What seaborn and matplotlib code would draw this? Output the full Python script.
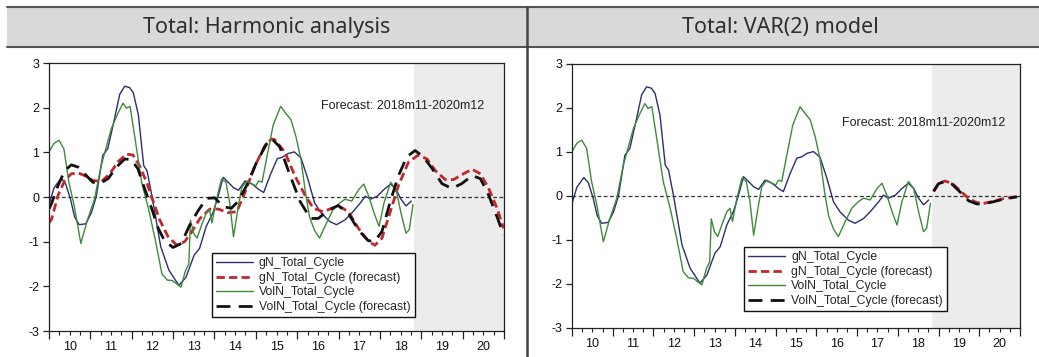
import matplotlib
matplotlib.use("Agg")
import matplotlib.pyplot as plt
from matplotlib.ticker import FixedLocator, FuncFormatter
from matplotlib.patches import Rectangle
from matplotlib.lines import Line2D
import seaborn as sns
import pandas as pd

sns.set_theme(style="white")
plt.rcParams["font.family"] = ["Liberation Sans", "DejaVu Sans"]

# ---- observed cycles (decimal year, value), 2010m1 - 2018m10 ----
gn_t = [2010.0, 2010.12, 2010.29, 2010.4, 2010.52, 2010.62, 2010.73, 2010.89, 2011.02, 2011.14,
        2011.30, 2011.42, 2011.55, 2011.71, 2011.83, 2011.95, 2012.04, 2012.16, 2012.29, 2012.37,
        2012.49, 2012.70, 2012.90, 2013.14, 2013.31, 2013.51, 2013.64, 2013.80, 2013.96, 2014.09,
        2014.21, 2014.30, 2014.46, 2014.58, 2014.74, 2014.91, 2015.07, 2015.19, 2015.36, 2015.52,
        2015.64, 2015.77, 2015.93, 2016.09, 2016.26, 2016.42, 2016.58, 2016.79, 2016.95, 2017.16,
        2017.32, 2017.53, 2017.65, 2017.77, 2017.94, 2018.10, 2018.26, 2018.39, 2018.51, 2018.63,
        2018.76]
gn_v = [-0.17, 0.2, 0.42, 0.3, -0.05, -0.45, -0.62, -0.60, -0.36, 0.0,
        0.93, 1.08, 1.61, 2.30, 2.48, 2.45, 2.33, 1.84, 0.70, 0.59,
        0.02, -1.11, -1.64, -1.98, -1.80, -1.30, -1.15, -0.66, -0.36, 0.02,
        0.44, 0.36, 0.21, 0.15, 0.36, 0.29, 0.17, 0.10, 0.52, 0.86,
        0.89, 0.97, 1.01, 0.88, 0.40, -0.13, -0.36, -0.55, -0.62, -0.51,
        -0.36, -0.13, 0.02, -0.05, 0.02, 0.17, 0.29, 0.17, -0.05, -0.20,
        -0.09]

voln_t = [2010.0, 2010.12, 2010.24, 2010.36, 2010.48, 2010.61, 2010.77, 2010.93, 2011.10, 2011.26,
          2011.51, 2011.67, 2011.79, 2011.87, 2011.96, 2012.08, 2012.24, 2012.41, 2012.57, 2012.73,
          2012.86, 2012.98, 2013.19, 2013.30, 2013.38, 2013.42, 2013.50, 2013.58, 2013.70, 2013.80,
          2013.88, 2013.94, 2014.05, 2014.17, 2014.28, 2014.37, 2014.46, 2014.58, 2014.66, 2014.78,
          2014.91, 2015.00, 2015.07, 2015.15, 2015.26, 2015.42, 2015.60, 2015.72, 2015.85, 2015.97,
          2016.09, 2016.20, 2016.30, 2016.42, 2016.54, 2016.71, 2016.87, 2017.03, 2017.16, 2017.32,
          2017.49, 2017.61, 2017.73, 2017.86, 2017.98, 2018.10, 2018.26, 2018.39, 2018.51, 2018.63,
          2018.71, 2018.80]
voln_v = [1.01, 1.2, 1.27, 1.08, 0.33, -0.20, -1.04, -0.51, -0.05, 0.70,
          1.54, 1.88, 2.10, 1.99, 2.03, 1.31, 0.33, -0.28, -0.96, -1.72,
          -1.86, -1.87, -2.02, -1.65, -1.50, -0.52, -0.82, -0.92, -0.60, -0.36,
          -0.28, -0.58, -0.05, 0.40, 0.33, -0.13, -0.89, -0.20, 0.21, 0.36,
          0.29, 0.25, 0.36, 0.33, 0.86, 1.61, 2.03, 1.88, 1.73, 1.35,
          0.85, 0.10, -0.45, -0.75, -0.92, -0.58, -0.28, -0.13, -0.05, -0.09,
          0.17, 0.29, 0.02, -0.36, -0.66, -0.13, 0.33, 0.17, -0.36, -0.81,
          -0.73, -0.17]

# ---- harmonic-analysis fits and forecasts, 2010m1 - 2020m12 ----
harm_gn_t = [2010.0, 2010.06, 2010.22, 2010.38, 2010.54, 2010.70, 2010.86, 2011.06, 2011.27, 2011.47,
             2011.67, 2011.87, 2012.03, 2012.19, 2012.36, 2012.52, 2012.68, 2012.88, 2013.08, 2013.28,
             2013.45, 2013.65, 2013.89, 2014.09, 2014.33, 2014.54, 2014.74, 2014.98, 2015.22, 2015.38,
             2015.46, 2015.70, 2015.94, 2016.19, 2016.39, 2016.63, 2016.84, 2017.04, 2017.24, 2017.48,
             2017.72, 2017.88, 2018.05, 2018.25, 2018.45, 2018.69, 2018.93, 2019.14, 2019.34, 2019.58,
             2019.78, 2020.02, 2020.23, 2020.43, 2020.63, 2020.83, 2020.99]
harm_gn_v = [-0.58, -0.50, 0.04, 0.37, 0.52, 0.54, 0.48, 0.37, 0.35, 0.52,
             0.79, 0.96, 0.94, 0.70, 0.33, -0.10, -0.52, -0.89, -1.07, -1.00,
             -0.78, -0.48, -0.27, -0.27, -0.35, -0.33, 0.11, 0.70, 1.15, 1.30,
             1.28, 1.01, 0.48, 0.04, -0.25, -0.33, -0.25, -0.22, -0.33, -0.70,
             -0.99, -1.08, -0.92, -0.33, 0.26, 0.78, 0.94, 0.85, 0.59, 0.39,
             0.39, 0.52, 0.62, 0.52, 0.19, -0.25, -0.70]

harm_voln_t = [2010.0, 2010.06, 2010.22, 2010.38, 2010.54, 2010.70, 2010.86, 2011.06, 2011.23, 2011.43,
               2011.63, 2011.83, 2011.99, 2012.15, 2012.31, 2012.48, 2012.64, 2012.80, 2013.00, 2013.20,
               2013.40, 2013.61, 2013.81, 2014.01, 2014.21, 2014.41, 2014.57, 2014.78, 2015.02, 2015.26,
               2015.38, 2015.58, 2015.83, 2016.07, 2016.32, 2016.51, 2016.75, 2016.99, 2017.24, 2017.48,
               2017.72, 2017.88, 2018.05, 2018.25, 2018.45, 2018.65, 2018.85, 2019.05, 2019.26, 2019.50,
               2019.74, 2019.98, 2020.23, 2020.43, 2020.63, 2020.83, 2020.99]
harm_voln_v = [-0.27, -0.15, 0.26, 0.59, 0.72, 0.67, 0.52, 0.33, 0.30, 0.41,
               0.67, 0.85, 0.84, 0.63, 0.19, -0.25, -0.70, -0.99, -1.13, -1.04,
               -0.63, -0.30, -0.03, -0.02, -0.22, -0.25, -0.10, 0.26, 0.78, 1.19,
               1.31, 1.12, 0.48, -0.10, -0.48, -0.48, -0.30, -0.19, -0.37, -0.74,
               -0.98, -0.99, -0.77, -0.10, 0.48, 0.90, 1.04, 0.90, 0.64, 0.30,
               0.19, 0.30, 0.48, 0.41, 0.04, -0.44, -0.85]

# ---- VAR(2) forecasts, 2018m11 - 2020m12 ----
var_t = [2018.88, 2019.00, 2019.16, 2019.33, 2019.53, 2019.74, 2019.94, 2020.10, 2020.35, 2020.60, 2020.93]
var_gn_v = [0.10, 0.29, 0.34, 0.29, 0.12, -0.06, -0.15, -0.17, -0.12, -0.06, -0.01]
var_voln_v = [0.11, 0.28, 0.33, 0.27, 0.09, -0.11, -0.18, -0.18, -0.13, -0.07, -0.02]

legend_labels = ["gN_Total_Cycle", "gN_Total_Cycle (forecast)",
                 "VolN_Total_Cycle", "VolN_Total_Cycle (forecast)"]
panel_titles = ["Total: Harmonic analysis", "Total: VAR(2) model"]
forecast_note = "Forecast: 2018m11-2020m12"
forecast_start = 2018 + 10 / 12
year_labels = list(range(2010, 2021))

C_GN = "#2a2f6e"
C_VOL = "#3f8a3a"
C_GNF = "#c4262e"
C_VOLF = "#111111"

fig = plt.figure(figsize=(10.39, 3.57), dpi=100)
fig.patch.set_facecolor("white")

# header band with panel titles
W, H = 1039, 357
fig.patches.append(Rectangle((7 / W, 1 - 47 / H), 1 - 7 / W, 40 / H, transform=fig.transFigure,
                             facecolor="#d9d9d9", edgecolor="none", zorder=0))
for yy in (7, 47):
    fig.lines.append(Line2D([7 / W, 1], [1 - yy / H] * 2, transform=fig.transFigure,
                            color="#555555", lw=1.5))
fig.lines.append(Line2D([527 / W] * 2, [0, 1 - 7 / H], transform=fig.transFigure,
                        color="#444444", lw=1.8))
for xc, title in zip([267 / W, 780 / W], panel_titles):
    fig.text(xc, 1 - 27 / H, title, ha="center", va="center", fontsize=15.5,
             family=["Noto Sans", "DejaVu Sans"], fontweight="light", color="#2e2e2e")

ax_l = fig.add_axes([49 / W, 1 - 331 / H, 455 / W, 268 / H])
ax_r = fig.add_axes([572 / W, 1 - 328 / H, 448 / W, 264 / H])


def draw(ax, x, y, color, lw, dashes=None, label=None):
    df = pd.DataFrame({"t": x, "v": y})
    sns.lineplot(data=df, x="t", y="v", ax=ax, color=color, lw=lw,
                 estimator=None, sort=False, label=label, legend=False)
    ln = ax.lines[-1]
    if dashes is not None:
        ln.set_dashes(dashes)
    return ln


def style_axes(ax, note_xy, legend_anchor):
    ax.set_xlim(2010, 2021)
    ax.set_ylim(-3, 3)
    ax.axvspan(forecast_start, 2021, color="#ececec", lw=0, zorder=0)
    ax.axhline(0, color="#333333", lw=0.9, ls=(0, (3, 2)), zorder=1)
    for s in ax.spines.values():
        s.set_color("#222222")
        s.set_linewidth(0.9)
        s.set_visible(True)
    ax.set_yticks(range(-3, 4))
    ax.set_yticklabels([str(v) for v in range(-3, 4)])
    ax.xaxis.set_major_locator(FixedLocator(year_labels + [2021]))
    ax.xaxis.set_major_formatter(FuncFormatter(lambda v, p: ""))
    ax.xaxis.set_minor_locator(FixedLocator([y + q for y in year_labels for q in (0.25, 0.5, 0.75)]))
    ax.xaxis.set_minor_formatter(FuncFormatter(
        lambda v, p: f"{int(v) % 100:02d}" if abs(v - int(v) - 0.5) < 1e-6 else ""))
    ax.tick_params(axis="x", which="major", direction="out", length=6, width=0.9, color="#222222")
    ax.tick_params(axis="x", which="minor", direction="out", length=3, width=0.8, color="#222222",
                   labelsize=9, pad=4, labelcolor="#111111")
    ax.tick_params(axis="y", direction="out", length=4, width=0.9, color="#222222",
                   labelsize=9, pad=3, labelcolor="#111111")
    ax.tick_params(bottom=True, left=True, which="both")
    ax.set_xlabel("")
    ax.set_ylabel("")
    ax.text(note_xy[0], note_xy[1], forecast_note, ha="center", va="center", fontsize=9,
            color="#222222")
    handles = ax.lines[:4]
    leg = ax.legend(handles, legend_labels, loc="lower left", bbox_to_anchor=legend_anchor,
                    borderaxespad=0, fontsize=8.8, frameon=True, fancybox=False,
                    framealpha=1, edgecolor="#111111", handlelength=3.0, handletextpad=0.5,
                    labelspacing=0.2, borderpad=0.35)
    leg.get_frame().set_linewidth(1.0)


# left panel: harmonic analysis
draw(ax_l, gn_t, gn_v, C_GN, 1.0)
draw(ax_l, harm_gn_t, harm_gn_v, C_GNF, 2.0, dashes=(3, 1.5))
draw(ax_l, voln_t, voln_v, C_VOL, 1.0)
draw(ax_l, harm_voln_t, harm_voln_v, C_VOLF, 2.0, dashes=(5, 3))
style_axes(ax_l, (2018.56, 2.04), (0.358, 0.052))

# right panel: VAR(2)
draw(ax_r, gn_t, gn_v, C_GN, 1.0)
draw(ax_r, var_t, var_gn_v, C_GNF, 2.0, dashes=(3, 1.5))
draw(ax_r, voln_t, voln_v, C_VOL, 1.0)
draw(ax_r, var_t, var_voln_v, C_VOLF, 2.0, dashes=(5, 3))
style_axes(ax_r, (2018.64, 1.66), (0.384, 0.064))

fig.savefig("out.png", dpi=100)
